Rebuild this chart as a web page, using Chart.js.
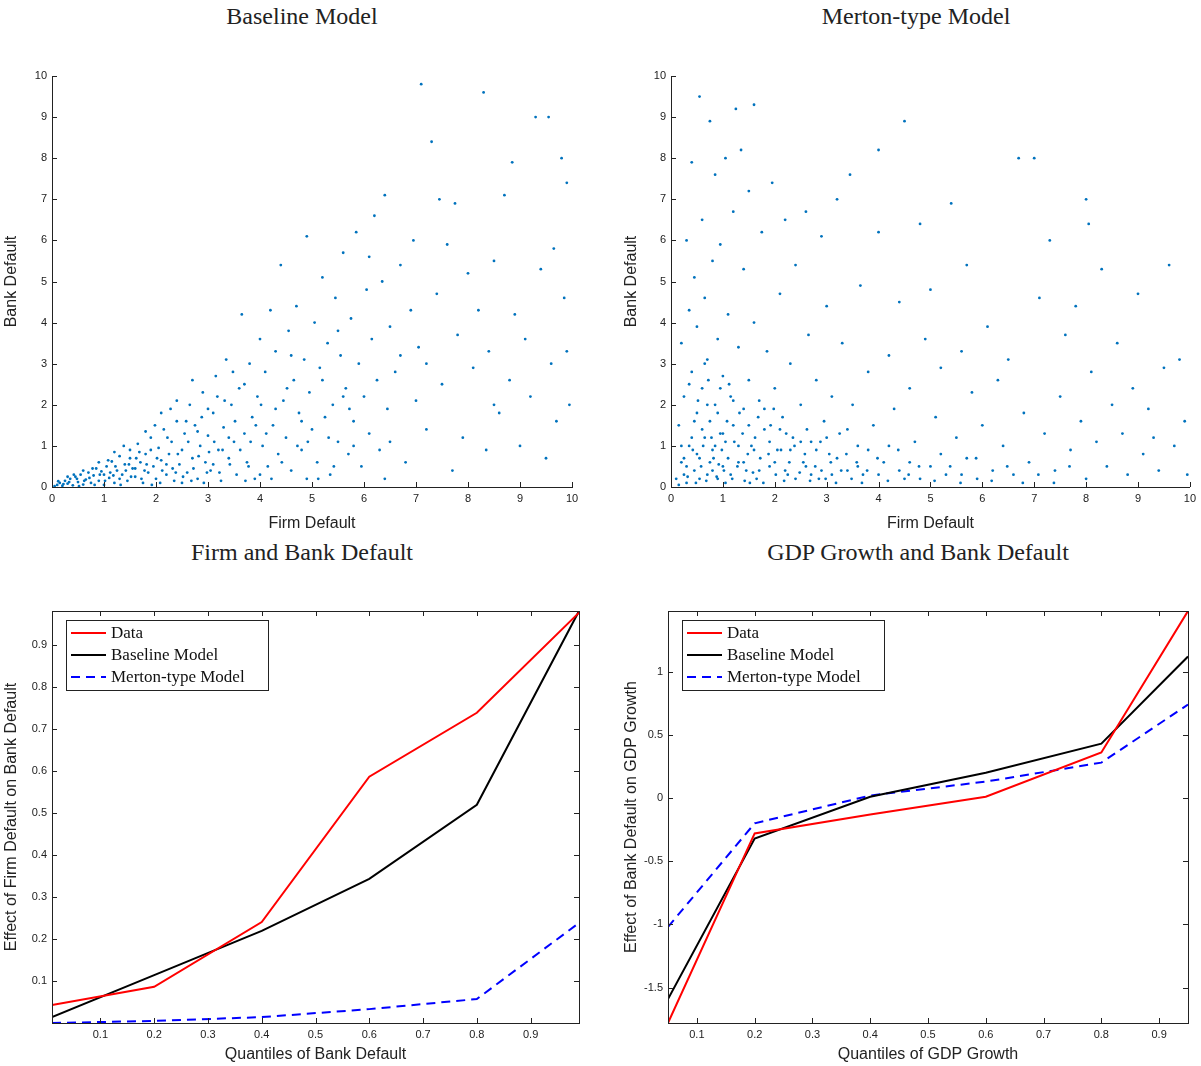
<!DOCTYPE html>
<html>
<head>
<meta charset="utf-8">
<script src="https://cdn.jsdelivr.net/npm/chart.js@4/dist/chart.umd.min.js"></script>
<style>
  body { margin: 0; background: #fff; width: 1201px; height: 1066px; position: relative; overflow: hidden; }
  .title { position: absolute; font-family: 'Liberation Serif', 'DejaVu Serif', serif; font-size: 24px; color: #222; text-align: center; }
  .box { position: absolute; }
</style>
</head>
<body>
<div class="title" style="left:52px;width:500px;top:3px">Baseline Model</div>
<div class="title" style="left:671px;width:490px;top:3px">Merton-type Model</div>
<div class="title" style="left:52px;width:500px;top:539px">Firm and Bank Default</div>
<div class="title" style="left:668px;width:500px;top:539px">GDP Growth and Bank Default</div>

<div class="box" style="left:0;top:60px;width:590px;height:475px"><canvas id="tl"></canvas></div>
<div class="box" style="left:620px;top:60px;width:581px;height:475px"><canvas id="tr"></canvas></div>
<div class="box" style="left:0;top:595px;width:600px;height:471px"><canvas id="bl"></canvas></div>
<div class="box" style="left:620px;top:595px;width:581px;height:471px"><canvas id="br"></canvas></div>

<script>
// ── Data ──────────────────────────────────────────────────────
// Scatter points are a hand-read sample of the reference clouds
const baselinePts = [
  [0.05,0.02],[0.1,0.05],[0.15,0.1],[0.2,0.03],[0.25,0.15],[0.3,0.08],[0.35,0.2],[0.4,0.04],[0.45,0.25],[0.5,0.12],
  [0.55,0.3],[0.6,0.06],[0.65,0.18],[0.7,0.35],[0.75,0.1],[0.8,0.28],[0.85,0.45],[0.9,0.15],[0.95,0.38],[1.0,0.05],
  [1.05,0.5],[1.1,0.22],[1.15,0.62],[1.2,0.1],[1.25,0.4],[1.3,0.75],[1.35,0.3],[1.4,0.55],[1.45,0.15],[1.5,0.9],
  [1.55,0.45],[1.6,0.25],[1.65,1.05],[1.7,0.6],[1.75,0.1],[1.8,0.8],[1.85,0.35],[1.9,1.2],[1.95,0.5],[2.0,0.2],
  [2.05,0.95],[2.1,0.65],[2.15,1.4],[2.2,0.3],[2.25,0.8],[2.3,1.1],[2.35,0.15],[2.4,1.6],[2.45,0.55],[2.5,0.9],
  [2.55,1.3],[2.6,0.35],[2.65,2.0],[2.7,0.7],[2.75,1.5],[2.8,0.2],[2.85,1.0],[2.9,2.3],[2.95,0.6],[3.0,1.25],
  [3.05,0.4],[3.1,1.8],[3.15,2.7],[3.2,0.9],[3.25,0.15],[3.3,1.45],[3.35,3.1],[3.4,0.7],[3.45,2.0],[3.5,1.1],
  [3.55,0.3],[3.6,2.4],[3.65,4.2],[3.7,1.3],[3.75,0.6],[3.8,3.0],[3.85,1.7],[3.9,0.2],[3.95,2.2],[4.0,3.6],
  [4.05,1.0],[4.1,2.8],[4.15,0.5],[4.2,4.3],[4.25,1.5],[4.3,3.3],[4.35,0.8],[4.4,5.4],[4.45,2.1],[4.5,1.2],
  [4.55,3.8],[4.6,0.4],[4.65,2.6],[4.7,4.4],[4.75,1.8],[4.8,0.9],[4.85,3.1],[4.9,6.1],[4.95,2.3],[5.0,1.4],
  [5.05,4.0],[5.1,0.6],[5.15,2.9],[5.2,5.1],[5.25,1.7],[5.3,3.5],[5.35,0.3],[5.4,2.0],[5.45,4.6],[5.5,1.1],
  [5.55,3.2],[5.6,5.7],[5.65,2.4],[5.7,0.8],[5.75,4.1],[5.8,1.6],[5.85,6.2],[5.9,3.0],[5.95,0.5],[6.0,2.2],
  [6.05,4.8],[6.1,1.3],[6.15,3.6],[6.2,6.6],[6.25,2.6],[6.3,0.9],[6.35,5.0],[6.4,7.1],[6.45,1.9],[6.5,3.9],
  [6.6,2.8],[6.7,5.4],[6.8,0.6],[6.9,4.3],[6.95,6.0],[7.0,2.1],[7.05,3.4],[7.1,9.8],[7.2,1.4],[7.3,8.4],
  [7.4,4.7],[7.45,7.0],[7.5,2.5],[7.6,5.9],[7.7,0.4],[7.75,6.9],[7.8,3.7],[7.9,1.2],[8.0,5.2],[8.1,2.9],
  [8.2,4.3],[8.3,9.6],[8.35,0.9],[8.4,3.3],[8.5,5.5],[8.6,1.8],[8.7,7.1],[8.8,2.6],[8.85,7.9],[8.9,4.2],
  [9.0,1.0],[9.1,3.6],[9.2,2.2],[9.3,9.0],[9.4,5.3],[9.5,0.7],[9.55,9.0],[9.6,3.0],[9.65,5.8],[9.7,1.6],
  [9.8,8.0],[9.85,4.6],[9.9,7.4],[9.95,2.0],[9.9,3.3],[8.5,2.0],[7.2,3.0],[6.5,1.1],[5.6,2.2],[4.8,1.6],
  [0.3,0.25],[0.6,0.4],[0.9,0.6],[1.2,0.85],[1.5,0.7],[1.8,1.35],[2.1,1.8],[2.4,2.1],[2.7,2.6],[3.0,1.9],
  [1.0,0.3],[1.3,0.2],[1.6,0.45],[1.9,0.9],[2.2,0.55],[2.5,0.1],[2.8,1.35],[3.1,0.55],[3.4,1.2],[3.7,2.5],
  [4.0,0.3],[4.3,1.9],[4.6,3.2],[4.9,0.2],[5.2,2.6],[5.5,3.8],[5.8,1.0],[6.1,5.6],[6.4,0.2],[6.7,3.2]
];
// extra hand-placed points filling the dense blob near the origin
const baselineBlob = [
  [0.12,0.14],[0.22,0.07],[0.33,0.12],[0.42,0.3],[0.52,0.02],[0.62,0.15],[0.72,0.22],[0.82,0.05],[0.92,0.3],[1.02,0.15],
  [1.12,0.35],[1.22,0.5],[1.32,0.05],[1.42,0.4],[1.52,0.25],[1.62,0.7],[1.72,0.2],[1.82,0.55],[1.92,0.05],[2.02,0.7],
  [2.12,0.4],[2.22,1.2],[2.32,0.45],[2.42,0.8],[2.52,0.25],[2.62,1.1],[2.72,0.45],[2.82,0.75],[2.92,0.1],[3.02,0.85],
  [3.12,1.1],[3.22,0.35],[3.32,2.1],[3.42,0.55],[3.52,1.6],[3.62,0.9],[3.72,0.15],[3.82,1.1],[3.92,1.5],[4.02,2.0],
  [1.08,0.65],[1.38,1.0],[1.68,0.85],[1.98,1.5],[2.28,1.9],[2.58,1.6],[2.88,1.7],[3.18,2.2],[3.48,2.8],[3.78,0.5],
  [0.48,0.2],[0.78,0.45],[1.18,0.28],[1.48,0.55],[1.78,0.4],[2.08,0.1],[2.38,0.35],[2.68,0.15],[2.98,0.35],[3.28,0.9],
  [4.12,1.3],[4.22,0.2],[4.42,0.6],[4.52,2.4],[4.72,1.0],[4.92,1.1],[5.12,0.2],[5.32,1.2],[5.42,0.5],[5.72,1.9]
];
const mertonPts = [
  [0.1,0.2],[0.15,1.5],[0.2,3.5],[0.2,0.6],[0.25,2.2],[0.3,6.0],[0.3,0.1],[0.35,4.3],[0.35,1.0],[0.4,7.9],
  [0.4,2.8],[0.45,0.4],[0.45,5.1],[0.5,1.8],[0.5,3.9],[0.55,9.5],[0.55,0.7],[0.6,2.4],[0.6,6.5],[0.65,1.2],
  [0.65,4.6],[0.7,0.3],[0.7,3.1],[0.75,8.9],[0.75,1.6],[0.8,5.5],[0.8,0.9],[0.85,2.0],[0.85,7.6],[0.9,0.2],
  [0.9,3.6],[0.95,1.3],[0.95,5.9],[1.0,0.5],[1.0,2.7],[1.05,8.0],[1.05,1.1],[1.1,4.2],[1.15,0.3],[1.15,2.2],
  [1.2,6.7],[1.2,1.5],[1.25,9.2],[1.3,0.6],[1.3,3.4],[1.35,8.2],[1.4,1.9],[1.4,5.3],[1.45,0.4],[1.5,2.6],
  [1.5,7.2],[1.55,1.0],[1.6,4.0],[1.6,9.3],[1.65,0.2],[1.7,2.1],[1.75,6.2],[1.8,1.4],[1.85,3.3],[1.9,0.5],
  [1.95,7.4],[2.0,2.4],[2.05,0.9],[2.1,4.7],[2.15,1.7],[2.2,6.5],[2.25,0.3],[2.3,3.0],[2.35,1.2],[2.4,5.4],
  [2.5,2.0],[2.55,0.6],[2.6,6.7],[2.65,3.7],[2.7,1.1],[2.8,2.6],[2.85,0.2],[2.9,6.1],[2.95,1.6],[3.0,4.4],
  [3.05,0.8],[3.1,2.2],[3.2,7.0],[3.25,1.3],[3.3,3.5],[3.4,0.4],[3.45,7.6],[3.5,2.0],[3.6,1.0],[3.65,4.9],
  [3.7,0.3],[3.8,2.8],[3.9,1.5],[4.0,8.2],[4.0,6.2],[4.1,0.6],[4.2,3.2],[4.3,1.9],[4.4,4.5],[4.5,0.2],
  [4.5,8.9],[4.6,2.4],[4.7,1.1],[4.8,6.4],[4.9,3.6],[5.0,0.5],[5.0,4.8],[5.1,1.7],[5.2,2.9],[5.3,0.3],
  [5.4,6.9],[5.5,1.2],[5.6,3.3],[5.7,0.7],[5.7,5.4],[5.8,2.3],[5.9,0.2],[6.0,1.5],[6.1,3.9],[6.2,0.4],
  [6.3,2.6],[6.4,1.0],[6.5,3.1],[6.6,0.3],[6.7,8.0],[6.8,1.8],[6.9,0.6],[7.0,8.0],[7.1,4.6],[7.2,1.3],
  [7.3,6.0],[7.4,0.4],[7.5,2.2],[7.6,3.7],[7.7,0.9],[7.8,4.4],[7.9,1.6],[8.0,0.2],[8.0,7.0],[8.05,6.4],
  [8.1,2.8],[8.2,1.1],[8.3,5.3],[8.4,0.5],[8.5,2.0],[8.6,3.5],[8.7,1.3],[8.8,0.3],[8.9,2.4],[9.0,4.7],
  [9.1,0.8],[9.2,1.9],[9.3,1.2],[9.4,0.4],[9.5,2.9],[9.6,5.4],[9.7,1.0],[9.8,3.1],[9.9,1.6],[9.95,0.3],
  [0.3,0.5],[0.4,1.2],[0.5,0.8],[0.6,1.4],[0.7,2.0],[0.8,0.4],[0.9,1.8],[1.0,1.3],[1.1,0.7],[1.2,2.1],
  [1.3,1.0],[1.4,0.6],[1.5,1.5],[1.6,0.9],[1.7,0.4],[1.8,1.9],[1.9,1.1],[2.0,0.6],[2.1,1.4],[2.2,0.4],
  [2.3,0.9],[2.4,0.2],[2.5,1.1],[2.6,0.5],[2.7,0.3],[2.8,0.9],[2.9,0.4],[3.0,1.2],[3.1,0.3],[3.2,0.7],
  [3.4,1.4],[3.6,0.5],[3.8,0.9],[4.0,0.3],[4.2,1.0],[4.4,0.4],[4.6,0.6],[4.8,0.2],[5.2,0.8],[5.6,0.3],
  [0.2,1.0],[0.25,0.3],[0.35,2.5],[0.45,1.6],[0.55,0.2],[0.65,3.0],[0.75,0.6],[0.85,1.0],[0.95,2.4],[1.05,0.1]
];
const mertonBlob = [
  [0.15,0.05],[0.25,0.7],[0.32,0.25],[0.42,0.9],[0.48,0.1],[0.58,0.5],[0.62,1.0],[0.68,0.15],[0.78,1.2],[0.82,0.7],
  [0.88,0.25],[0.98,0.9],[1.02,0.4],[1.08,1.6],[1.18,0.2],[1.22,1.1],[1.28,0.5],[1.38,1.3],[1.42,0.15],[1.48,0.8],
  [1.58,0.35],[1.62,1.2],[1.72,0.7],[1.78,0.1],[1.88,0.8],[1.92,1.5],[2.02,0.3],[2.12,0.9],[2.18,0.15],[2.28,0.6],
  [2.38,1.0],[2.48,0.35],[2.58,0.8],[2.68,0.15],[2.78,0.5],[2.88,1.1],[2.98,0.2],[3.08,0.6],[3.18,0.1],[3.28,0.4],
  [3.38,0.8],[3.48,0.2],[3.58,0.6],[3.68,0.1],[3.78,0.4],[3.98,0.7],[4.18,0.15],[4.38,0.9],[4.58,0.3],[4.78,0.5],
  [0.52,2.1],[0.72,2.6],[0.92,0.55],[1.12,2.5],[1.32,1.8],[1.52,0.1],[1.68,1.7],[1.98,1.9],[2.22,1.3],[2.62,1.4],
  [5.08,0.15],[5.38,0.5],[5.58,0.1],[5.88,0.7],[6.18,0.15],[6.48,0.5],[6.78,0.1],[7.08,0.3],[7.38,0.1],[7.68,0.5]
];

const bankQuant = [0.01, 0.2, 0.4, 0.6, 0.8, 0.99];
const firmData     = [0.043, 0.086, 0.24, 0.586, 0.738, 0.976];
const firmBaseline = [0.014, 0.114, 0.219, 0.343, 0.519, 0.98];
const firmMerton   = [0.0, 0.005, 0.014, 0.033, 0.057, 0.238];

const gdpQuant = [0.05, 0.2, 0.4, 0.6, 0.8, 0.95];
const gdpData     = [-1.78, -0.28, -0.13, 0.01, 0.36, 1.48];
const gdpBaseline = [-1.59, -0.32, 0.01, 0.2, 0.43, 1.12];
const gdpMerton   = [-1.02, -0.2, 0.02, 0.13, 0.28, 0.74];

const seriesNames = ['Data', 'Baseline Model', 'Merton-type Model'];

// ── Helpers ───────────────────────────────────────────────────
const BLUE = '#0072BD';
const TICK_FONT = { family: 'Liberation Sans', size: 11 };
const LABEL_FONT = { family: 'Liberation Sans', size: 16 };

function axis(opts) {
  return {
    type: 'linear',
    min: opts.min, max: opts.max,
    grid: { display: false, drawTicks: false },
    border: { display: true, color: '#222', width: 1 },
    ticks: {
      color: '#222', font: TICK_FONT, padding: 5,
      stepSize: opts.step, autoSkip: false,
      callback: opts.cb || (v => String(Math.round(v * 100) / 100)),
    },
    afterBuildTicks: opts.ticks ? s => { s.ticks = opts.ticks.map(v => ({ value: v })); } : undefined,
    title: { display: true, text: opts.title, color: '#222', font: LABEL_FONT, padding: 2 },
    afterFit: s => { if (opts.w) s.width = opts.w; if (opts.h) s.height = opts.h; },
  };
}

// box outline + inward tick marks (MATLAB style)
const frame = {
  id: 'frame',
  afterDraw(chart, args, o) {
    const { ctx, chartArea: a, scales } = chart;
    ctx.save();
    ctx.strokeStyle = '#222';
    ctx.lineWidth = 1;
    if (o.box) ctx.strokeRect(a.left + 0.5, a.top + 0.5, a.right - a.left, a.bottom - a.top);
    ctx.beginPath();
    scales.x.ticks.forEach(t => {
      const px = Math.round(scales.x.getPixelForValue(t.value)) + 0.5;
      ctx.moveTo(px, a.bottom); ctx.lineTo(px, a.bottom - 5);
      if (o.box) { ctx.moveTo(px, a.top); ctx.lineTo(px, a.top + 5); }
    });
    scales.y.ticks.forEach(t => {
      const py = Math.round(scales.y.getPixelForValue(t.value)) + 0.5;
      ctx.moveTo(a.left, py); ctx.lineTo(a.left + 5, py);
      if (o.box) { ctx.moveTo(a.right, py); ctx.lineTo(a.right - 5, py); }
    });
    ctx.stroke();
    ctx.restore();
  },
};

// legend box inside upper-left corner
const innerLegend = {
  id: 'innerLegend',
  afterDraw(chart) {
    const { ctx, chartArea: a } = chart;
    const ds = chart.data.datasets;
    const x0 = a.left + 14, y0 = a.top + 9, w = 202, rowH = 22;
    ctx.save();
    ctx.fillStyle = '#fff';
    ctx.fillRect(x0, y0, w, rowH * ds.length + 4);
    ctx.strokeStyle = '#222'; ctx.lineWidth = 1;
    ctx.strokeRect(x0 + 0.5, y0 + 0.5, w, rowH * ds.length + 4);
    ctx.font = '17px "Liberation Serif", serif';
    ctx.textBaseline = 'middle';
    ds.forEach((d, i) => {
      const cy = y0 + 13 + i * rowH;
      ctx.strokeStyle = d.borderColor; ctx.lineWidth = 2;
      ctx.setLineDash(d.borderDash || []);
      ctx.beginPath(); ctx.moveTo(x0 + 5, cy); ctx.lineTo(x0 + 40, cy); ctx.stroke();
      ctx.setLineDash([]);
      ctx.fillStyle = '#111';
      ctx.fillText(d.label, x0 + 45, cy + 1);
    });
    ctx.restore();
  },
};

function scatterChart(id, pts, yw) {
  new Chart(document.getElementById(id), {
    type: 'scatter',
    data: { datasets: [{ data: pts.map(p => ({ x: p[0], y: p[1] })), backgroundColor: BLUE, borderWidth: 0, pointRadius: 1.4 }] },
    options: {
      responsive: true, maintainAspectRatio: false, animation: false,
      layout: { padding: { top: 16, right: id === 'tl' ? 18 : 9 } },
      plugins: { legend: { display: false }, tooltip: { enabled: false }, frame: { box: false } },
      scales: {
        x: axis({ min: 0, max: 10, step: 1, title: 'Firm Default', h: 48 }),
        y: axis({ min: 0, max: 10, step: 1, title: 'Bank Default', w: yw }),
      },
    },
    plugins: [frame],
  });
}

function lineChart(id, xs, a, b, c, yopt, xticks, yw, padR) {
  const mk = (label, ys, color, dash) => ({
    label, data: xs.map((x, i) => ({ x, y: ys[i] })),
    borderColor: color, borderWidth: 2, borderDash: dash, pointRadius: 0, tension: 0,
  });
  new Chart(document.getElementById(id), {
    type: 'line',
    data: { datasets: [
      mk(seriesNames[0], a, '#ff0000'),
      mk(seriesNames[1], b, '#000000'),
      mk(seriesNames[2], c, '#0000ff', [9, 6]),
    ] },
    options: {
      responsive: true, maintainAspectRatio: false, animation: false,
      layout: { padding: { top: 16, right: padR } },
      plugins: { legend: { display: false }, tooltip: { enabled: false }, frame: { box: true } },
      scales: {
        x: axis({ min: xs[0], max: xs[xs.length - 1], ticks: xticks, title: xticks.title, h: 43, cb: v => String(Math.round(v * 10) / 10) }),
        y: axis(Object.assign({ w: yw }, yopt)),
      },
    },
    plugins: [frame, innerLegend],
  });
}

// ── Charts ────────────────────────────────────────────────────
scatterChart('tl', baselinePts.concat(baselineBlob), 52);
scatterChart('tr', mertonPts.concat(mertonBlob), 51);

const qTicks = [0.1, 0.2, 0.3, 0.4, 0.5, 0.6, 0.7, 0.8, 0.9];
lineChart('bl', bankQuant, firmData, firmBaseline, firmMerton,
  { min: 0, max: 0.98, ticks: qTicks, title: 'Effect of Firm Default on Bank Default' },
  Object.assign(qTicks.slice(), { title: 'Quantiles of Bank Default' }), 52, 21);
lineChart('br', gdpQuant, gdpData, gdpBaseline, gdpMerton,
  { min: -1.78, max: 1.48, ticks: [-1.5, -1, -0.5, 0, 0.5, 1], title: 'Effect of Bank Default on GDP Growth' },
  Object.assign(qTicks.slice(), { title: 'Quantiles of GDP Growth' }), 48, 13);
</script>
</body>
</html>
